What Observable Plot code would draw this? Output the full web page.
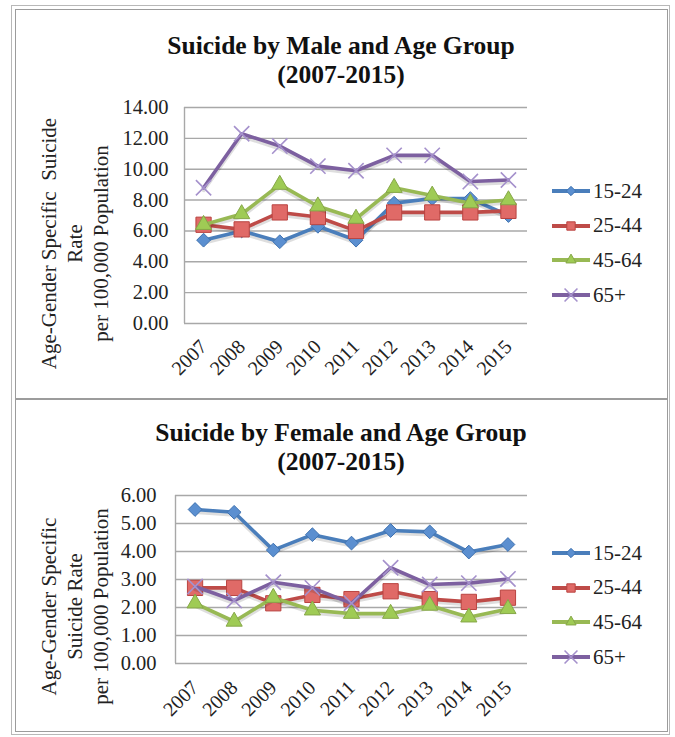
<!DOCTYPE html>
<html>
<head>
<meta charset="utf-8">
<script src="https://cdn.jsdelivr.net/npm/d3@7"></script>
<script src="https://cdn.jsdelivr.net/npm/@observablehq/plot@0.6"></script>
<style>
  body { margin: 0; background: #fff; font-family: "Liberation Serif", serif; }
  #page { position: relative; width: 675px; height: 737px; overflow: hidden; background: #fff; }
  .outer { position: absolute; left: 11px; top: 5px; width: 659px; height: 730px; border: 1px solid #b8b8b8; box-sizing: border-box; }
  .cell { position: absolute; left: 15px; width: 653px; border: 1.5px solid #9c9c9c; box-sizing: border-box; }
  .title { position: absolute; left: 15px; width: 652px; text-align: center; font-family: "Liberation Serif", serif; font-weight: bold; font-size: 25.5px; line-height: 29px; color: #111; }
  .chart { position: absolute; left: 15px; }
  .legrow { position: absolute; left: 551px; height: 24px; display: flex; align-items: center; font-family: "Liberation Serif", serif; font-size: 21px; color: #222; }
  .legrow svg { display: block; margin-right: 2px; }
</style>
</head>
<body>
<div id="page">
  <div class="outer"></div>
  <div class="cell" style="top:9px;height:391px;"></div>
  <div class="cell" style="top:398px;height:334px;"></div>
  <div class="title" style="top:31px;">Suicide by Male and Age Group<br>(2007-2015)</div>
  <div class="title" style="top:418px;">Suicide by Female and Age Group<br>(2007-2015)</div>
  <div id="male" class="chart" style="top:95px;"></div>
  <div id="female" class="chart" style="top:480px;"></div>
  <div id="legMale"></div>
  <div id="legFemale"></div>
</div>
<script>
// ---- data ----
const years = [2007, 2008, 2009, 2010, 2011, 2012, 2013, 2014, 2015];
const ageGroups = ["15-24", "25-44", "45-64", "65+"];

const male15_24 = [5.4, 6.0, 5.3, 6.3, 5.4, 7.8, 8.1, 8.1, 7.0];
const male25_44 = [6.4, 6.1, 7.2, 6.9, 6.0, 7.2, 7.2, 7.2, 7.3];
const male45_64 = [6.4, 7.1, 9.0, 7.6, 6.8, 8.8, 8.3, 7.8, 8.0];
const male65plus = [8.8, 12.3, 11.5, 10.2, 9.9, 10.9, 10.9, 9.2, 9.3];

const female15_24 = [5.5, 5.4, 4.05, 4.6, 4.3, 4.75, 4.7, 3.98, 4.25];
const female25_44 = [2.7, 2.7, 2.15, 2.45, 2.3, 2.58, 2.3, 2.2, 2.35];
const female45_64 = [2.15, 1.5, 2.35, 1.9, 1.78, 1.78, 2.07, 1.65, 1.95];
const female65plus = [2.75, 2.25, 2.9, 2.7, 2.15, 3.42, 2.82, 2.87, 3.02];

const maleTicks = [0, 2, 4, 6, 8, 10, 12, 14];
const femaleTicks = [0, 1, 2, 3, 4, 5, 6];

const maleTitle = "Age-Gender Specific  Suicide\nRate\nper 100,000 Population";
const femaleTitle = "Age-Gender Specific\nSuicide Rate\nper 100,000 Population";

// ---- styles ----
const serif = "Liberation Serif";
const styles = {
  "15-24": {line: "#4a7ebb", fill: "#5b8fd0", stroke: "#3f72b0", symbol: "diamond2", r: 6.2, sw: 1},
  "25-44": {line: "#be4b48", fill: "#e06a67", stroke: "#b94441", symbol: "square", r: 8.6, sw: 1},
  "45-64": {line: "#98b954", fill: "#9fcb55", stroke: "#86a748", symbol: "triangle", r: 6.0, sw: 1},
  "65+":   {line: "#7d60a0", fill: "none", stroke: "#a591cc", symbol: "times", r: 7.0, sw: 1.6}
};

function makeChart(cfg) {
  const series = [
    {name: ageGroups[0], values: cfg.values[0]},
    {name: ageGroups[1], values: cfg.values[1]},
    {name: ageGroups[2], values: cfg.values[2]},
    {name: ageGroups[3], values: cfg.values[3]}
  ];
  const marks = [
    Plot.gridY(cfg.ticks, {stroke: "#a8a8a8", strokeOpacity: 1, strokeWidth: 1.4}),
    Plot.ruleX([2006.5], {stroke: "#a8a8a8", strokeWidth: 1.4}),
    Plot.axisY(cfg.ticks, {tickSize: 0, tickPadding: cfg.tickPad, tickFormat: d3.format(".2f"), label: null, fontSize: 20.5, fontFamily: serif, fill: "#222"}),
    Plot.axisX(years, {tickSize: 0, tickPadding: cfg.xPad, tickRotate: -45, tickFormat: d => String(d), label: null, fontSize: 20, fontFamily: serif, fill: "#222"}),
    Plot.text([cfg.title], {frameAnchor: "left", textAnchor: "middle", rotate: -90, dx: cfg.tdx, dy: cfg.tdy, lineHeight: 1.24, fontSize: 21, fontFamily: serif, fill: "#222"})
  ];
  for (const s of series) {
    const st = styles[s.name];
    const rows = years.map((yr, i) => ({year: yr, value: s.values[i]}));
    marks.push(Plot.line(rows, {x: "year", y: "value", stroke: "#000", strokeOpacity: 0.13, strokeWidth: 4, dy: 2.5}));
    marks.push(Plot.line(rows, {x: "year", y: "value", stroke: st.line, strokeWidth: 3.6}));
    marks.push(Plot.dot(rows, {x: "year", y: "value", symbol: st.symbol, r: st.r, fill: st.fill, stroke: st.stroke, strokeWidth: st.sw}));
  }
  return Plot.plot({
    width: 652,
    height: cfg.height,
    marginTop: cfg.mt,
    marginBottom: cfg.mb,
    marginLeft: cfg.ml,
    marginRight: 140,
    x: {type: "linear", domain: [2006.5, 2015.5]},
    y: {domain: [0, cfg.yMax]},
    style: {fontFamily: serif, fontSize: "20px", color: "#222", background: "transparent", overflow: "visible"},
    marks
  });
}

document.getElementById("male").append(makeChart({
  values: [male15_24, male25_44, male45_64, male65plus],
  ticks: maleTicks, yMax: 14, title: maleTitle,
  height: 300, mt: 12, mb: 72, ml: 169, tickPad: 16, xPad: 20, tdx: -111, tdy: 28
}));
document.getElementById("female").append(makeChart({
  values: [female15_24, female25_44, female45_64, female65plus],
  ticks: femaleTicks, yMax: 6, title: femaleTitle,
  height: 248, mt: 15, mb: 65, ml: 160, tickPad: 19, xPad: 21, tdx: -102, tdy: 27
}));

function symbolPath(name, size) {
  const map = {diamond2: d3.symbolDiamond2, square: d3.symbolSquare, triangle: d3.symbolTriangle, times: d3.symbolTimes};
  return d3.symbol(map[name], size)();
}
function makeLegend(id, top) {
  const host = document.getElementById(id);
  ageGroups.forEach((g, i) => {
    const st = styles[g];
    const row = document.createElement("div");
    row.className = "legrow";
    row.style.top = (top + i * 34.7 - 12) + "px";
    const sz = {diamond2: 55, square: 70, triangle: 45, times: 110}[st.symbol];
    row.innerHTML = `<svg width="40" height="16"><line x1="1" y1="8" x2="39" y2="8" stroke="${st.line}" stroke-width="4"/>` +
      `<path transform="translate(20,8)" d="${symbolPath(st.symbol, sz)}" fill="${st.fill}" stroke="${st.stroke}" stroke-width="${st.sw}"/></svg><span>${g}</span>`;
    host.appendChild(row);
  });
}
makeLegend("legMale", 191);
makeLegend("legFemale", 553);
</script>
</body>
</html>
